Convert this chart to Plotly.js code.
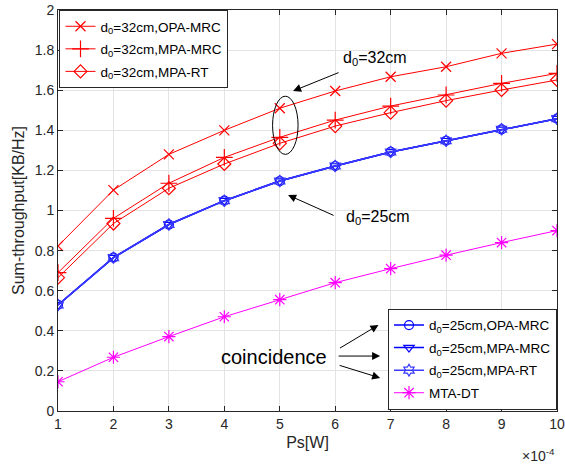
<!DOCTYPE html>
<html>
<head>
<meta charset="utf-8">
<script src="https://cdn.plot.ly/plotly-3.0.1.min.js"></script>
<style>
  html, body { margin: 0; padding: 0; background: #ffffff; }
  #chart { width: 565px; height: 466px; }
</style>
</head>
<body>
<div id="chart"></div>
<script>
// Transmit power Ps (in units of 1e-4 W)
const ps = [1, 2, 3, 4, 5, 6, 7, 8, 9, 10];

// Sum-throughput [KB/Hz], d0 = 32 cm
const opaMrc32 = [0.823, 1.102, 1.280, 1.400, 1.510, 1.596, 1.667, 1.717, 1.784, 1.830];
const mpaMrc32 = [0.690, 0.961, 1.136, 1.265, 1.365, 1.451, 1.521, 1.576, 1.634, 1.684];
const mpaRt32  = [0.665, 0.935, 1.111, 1.232, 1.335, 1.421, 1.488, 1.548, 1.601, 1.651];

// Sum-throughput [KB/Hz], d0 = 25 cm (the three schemes coincide)
const opaMrc25 = [0.529, 0.765, 0.930, 1.049, 1.147, 1.222, 1.292, 1.348, 1.405, 1.458];
const mpaMrc25 = [0.529, 0.765, 0.930, 1.049, 1.147, 1.222, 1.292, 1.348, 1.405, 1.458];
const mpaRt25  = [0.529, 0.765, 0.930, 1.049, 1.147, 1.222, 1.292, 1.348, 1.405, 1.458];

// Direct transmission baseline
const mtaDt = [0.146, 0.268, 0.371, 0.470, 0.555, 0.640, 0.710, 0.777, 0.840, 0.900];

const yTicks = [0, 0.2, 0.4, 0.6, 0.8, 1, 1.2, 1.4, 1.6, 1.8, 2];

const RED = '#ff0000', BLUE = '#0000ff', BLUE2 = '#3a3aff', MAG = '#ff00ff';

function series(name, y, color, symbol, size, width, legend) {
  return {
    x: ps, y: y, name: name, type: 'scatter', mode: 'lines+markers',
    legend: legend, legendgroup: name,
    line: { color: color, width: width },
    marker: { symbol: symbol, size: size, color: color,
              line: { color: color, width: 1.2 } }
  };
}

const traces = [
  series('d<sub>0</sub>=32cm,OPA-MRC', opaMrc32, RED, 'x-thin-open', 10, 1, 'legend'),
  series('d<sub>0</sub>=32cm,MPA-MRC', mpaMrc32, RED, 'cross-thin-open', 12, 1, 'legend'),
  series('d<sub>0</sub>=32cm,MPA-RT', mpaRt32, RED, 'diamond-open', 10, 1, 'legend'),
  series('d<sub>0</sub>=25cm,OPA-MRC', opaMrc25, BLUE, 'circle-open', 9, 1.5, 'legend2'),
  series('d<sub>0</sub>=25cm,MPA-MRC', mpaMrc25, BLUE, 'triangle-down-open', 9, 1.5, 'legend2'),
  series('d<sub>0</sub>=25cm,MPA-RT', mpaRt25, BLUE2, 'hexagram-open', 9, 1.5, 'legend2'),
  series('MTA-DT', mtaDt, MAG, 'asterisk-open', 11, 1, 'legend2')
];

const axisCommon = {
  showline: true, linecolor: '#262626', linewidth: 1,
  mirror: 'ticks', ticks: 'inside', ticklen: 5, tickcolor: '#262626',
  showgrid: true, gridcolor: '#e3e3e3', gridwidth: 1,
  zeroline: false,
  tickfont: { family: 'Liberation Sans, Arial, sans-serif', size: 14, color: '#262626' }
};

const arrowStyle = { showarrow: true, arrowhead: 2, arrowsize: 1.6, arrowwidth: 1,
                     arrowcolor: '#000000', axref: 'pixel', ayref: 'pixel' };

const legendCommon = {
  bgcolor: '#ffffff', bordercolor: '#262626', borderwidth: 1,
  font: { size: 13.5, color: '#000000' }, itemwidth: 30, tracegroupgap: 2
};

const layout = {
  width: 565, height: 466,
  margin: { l: 58, r: 8, t: 10, b: 55 },
  paper_bgcolor: '#ffffff', plot_bgcolor: '#ffffff',
  font: { family: 'Liberation Sans, Arial, sans-serif', size: 13, color: '#262626' },
  showlegend: true,
  xaxis: Object.assign({}, axisCommon, {
    range: [1, 10], tickvals: ps, ticktext: ps.map(String),
    title: { text: 'Ps[W]', font: { size: 16, color: '#262626' }, standoff: 6 }
  }),
  yaxis: Object.assign({}, axisCommon, {
    range: [0, 2], tickvals: yTicks, ticktext: yTicks.map(String),
    title: { text: 'Sum-throughput[KB/Hz]', font: { size: 16, color: '#262626' }, standoff: 6 }
  }),
  legend: Object.assign({ x: 0.003, y: 1, xanchor: 'left', yanchor: 'top' }, legendCommon),
  legend2: Object.assign({ x: 1, y: 0.003, xanchor: 'right', yanchor: 'bottom' }, legendCommon),
  shapes: [
    { type: 'circle', xref: 'x', yref: 'y', x0: 4.87, x1: 5.33, y0: 1.28, y1: 1.57,
      line: { color: '#000000', width: 1 } }
  ],
  annotations: [
    { x: 6.72, y: 1.76, xref: 'x', yref: 'y', text: 'd<sub>0</sub>=32cm', showarrow: false,
      font: { size: 16, color: '#000000' } },
    Object.assign({ x: 5.24, y: 1.596, xref: 'x', yref: 'y', text: '', ax: 47, ay: -19 }, arrowStyle),
    { x: 6.78, y: 0.963, xref: 'x', yref: 'y', text: 'd<sub>0</sub>=25cm', showarrow: false,
      font: { size: 16, color: '#000000' } },
    Object.assign({ x: 5.15, y: 1.077, xref: 'x', yref: 'y', text: '', ax: 47, ay: 21 }, arrowStyle),
    { x: 4.9, y: 0.27, xref: 'x', yref: 'y', text: 'coincidence', showarrow: false,
      font: { size: 20, color: '#000000' } },
    Object.assign({ x: 6.78, y: 0.429, xref: 'x', yref: 'y', text: '', ax: -40, ay: 24 }, arrowStyle),
    Object.assign({ x: 6.81, y: 0.274, xref: 'x', yref: 'y', text: '', ax: -43, ay: 0 }, arrowStyle),
    Object.assign({ x: 6.81, y: 0.165, xref: 'x', yref: 'y', text: '', ax: -42, ay: -13 }, arrowStyle),
    { x: 1, y: -0.11, xref: 'paper', yref: 'paper', xanchor: 'right', yanchor: 'middle',
      text: '×10<sup>-4</sup>', showarrow: false, font: { size: 14, color: '#262626' } }
  ]
};

Plotly.newPlot('chart', traces, layout, { displayModeBar: false, staticPlot: true });
</script>
</body>
</html>
